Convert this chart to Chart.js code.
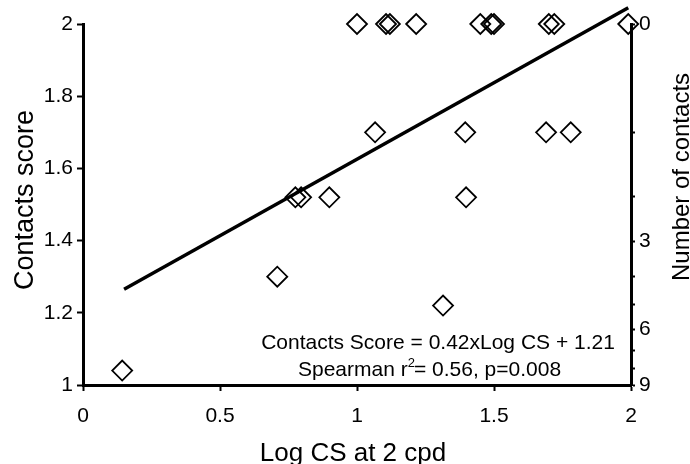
<!DOCTYPE html>
<html>
<head>
<meta charset="utf-8">
<script src="https://cdn.jsdelivr.net/npm/chart.js@4"></script>
<style>
html, body { margin: 0; padding: 0; background: #fff; }
canvas { display: block; }
</style>
</head>
<body>
<canvas id="contactsChart" width="690" height="464"></canvas>
<script>
// data
const logCS = [1.0, 1.106, 1.12, 1.216, 1.45, 1.49, 1.50, 1.70, 1.72, 1.99,
               1.066, 1.395, 1.69, 1.78,
               0.775, 0.796, 0.899, 1.398,
               0.709, 1.314, 0.143];
const contactsScore = [2, 2, 2, 2, 2, 2, 2, 2, 2, 2,
                       1.70, 1.70, 1.70, 1.70,
                       1.52, 1.52, 1.52, 1.52,
                       1.30, 1.22, 1.04];
// regression line end points
const fitX = [0.15, 1.99];
const fitY = [1.265, 2.045];

const xTicks = [0, 0.5, 1, 1.5, 2];
const yTicks = [1, 1.2, 1.4, 1.6, 1.8, 2];
// right axis: number of contacts, score = 2 - log10(n + 1)
const contactCounts = [0, 1, 2, 3, 4, 5, 6, 7, 8, 9];
const labelledCounts = [0, 3, 6, 9];

const FONT = "'Liberation Sans', Arial, sans-serif";

const points = logCS.map((x, i) => ({ x: x, y: contactsScore[i] }));
const fitLine = fitX.map((x, i) => ({ x: x, y: fitY[i] }));

const axisStyle = (w) => ({
    grid: { drawOnChartArea: false, drawTicks: true, tickLength: 6, color: '#000', tickWidth: 2 },
    border: { display: true, color: '#000', width: w },
});

const titles = {
    id: 'titles',
    afterDraw(chart) {
        const ctx = chart.ctx;
        ctx.save();
        ctx.fillStyle = '#000';

        // bottom title
        ctx.font = '26px ' + FONT;
        ctx.textAlign = 'center';
        ctx.textBaseline = 'alphabetic';
        ctx.fillText('Log CS at 2 cpd', 353, 461);

        // left title
        ctx.save();
        ctx.translate(33, 200);
        ctx.rotate(-Math.PI / 2);
        ctx.font = '27px ' + FONT;
        ctx.fillText('Contacts score', 0, 0);
        ctx.restore();

        // right title (reads bottom to top)
        ctx.save();
        ctx.translate(689, 177);
        ctx.rotate(-Math.PI / 2);
        ctx.font = '24px ' + FONT;
        ctx.fillText('Number of contacts', 0, 0);
        ctx.restore();

        // equation + stats
        ctx.font = '21px ' + FONT;
        ctx.textAlign = 'center';
        ctx.fillText('Contacts Score = 0.42xLog CS + 1.21', 438, 349);

        ctx.textAlign = 'left';
        let x = 298;
        const y = 376;
        const a = 'Spearman r';
        ctx.fillText(a, x, y);
        x += ctx.measureText(a).width;
        ctx.font = '13px ' + FONT;
        ctx.fillText('2', x, y - 9);
        x += ctx.measureText('2').width - 1;
        ctx.font = '21px ' + FONT;
        ctx.fillText('= 0.56, p=0.008', x, y);
        ctx.restore();
    }
};

new Chart(document.getElementById('contactsChart'), {
    type: 'scatter',
    data: {
        datasets: [
            {
                label: 'Subjects',
                data: points,
                pointStyle: 'rectRot',
                pointRadius: 10,
                pointHoverRadius: 10,
                pointBorderWidth: 1.8,
                pointBorderColor: '#000',
                pointBackgroundColor: 'rgba(0,0,0,0)',
                clip: false,
                yAxisID: 'y',
            },
            {
                label: 'Fit',
                data: fitLine,
                showLine: true,
                borderColor: '#000',
                borderWidth: 3.5,
                pointRadius: 0,
                clip: false,
                yAxisID: 'y',
            },
        ]
    },
    options: {
        responsive: false,
        animation: false,
        layout: { padding: { top: 24, left: 0, right: 0, bottom: 0 } },
        plugins: {
            legend: { display: false },
            tooltip: { enabled: false },
        },
        scales: {
            x: {
                type: 'linear',
                position: 'bottom',
                min: 0,
                max: 2,
                afterBuildTicks: (s) => { s.ticks = xTicks.map(v => ({ value: v })); },
                ticks: { color: '#000', font: { family: FONT, size: 21 }, padding: 13, autoSkip: false,
                         callback: (v) => String(v) },
                afterFit: (s) => { s.height = 79; },
                ...axisStyle(3),
            },
            y: {
                type: 'linear',
                position: 'left',
                min: 1,
                max: 2,
                afterBuildTicks: (s) => { s.ticks = yTicks.map(v => ({ value: v })); },
                ticks: { color: '#000', font: { family: FONT, size: 21 }, padding: 4, autoSkip: false,
                         callback: (v) => String(v) },
                afterFit: (s) => { s.width = 83; },
                ...axisStyle(3),
            },
            y2: {
                type: 'linear',
                position: 'right',
                min: 1,
                max: 2,
                afterBuildTicks: (s) => {
                    s.ticks = contactCounts.slice().reverse().map(n => ({ value: 2 - Math.log10(n + 1) }));
                },
                ticks: {
                    color: '#000', font: { family: FONT, size: 21 }, padding: 4, autoSkip: false,
                    callback: (v) => {
                        const n = Math.round(Math.pow(10, 2 - v) - 1);
                        return labelledCounts.includes(n) ? String(n) : '';
                    }
                },
                afterFit: (s) => { s.width = 59; },
                grid: { drawOnChartArea: false, drawTicks: true, tickLength: 4, color: '#000', tickWidth: 2 },
                border: { display: true, color: '#000', width: 3 },
            },
        }
    },
    plugins: [titles]
});
</script>
</body>
</html>
